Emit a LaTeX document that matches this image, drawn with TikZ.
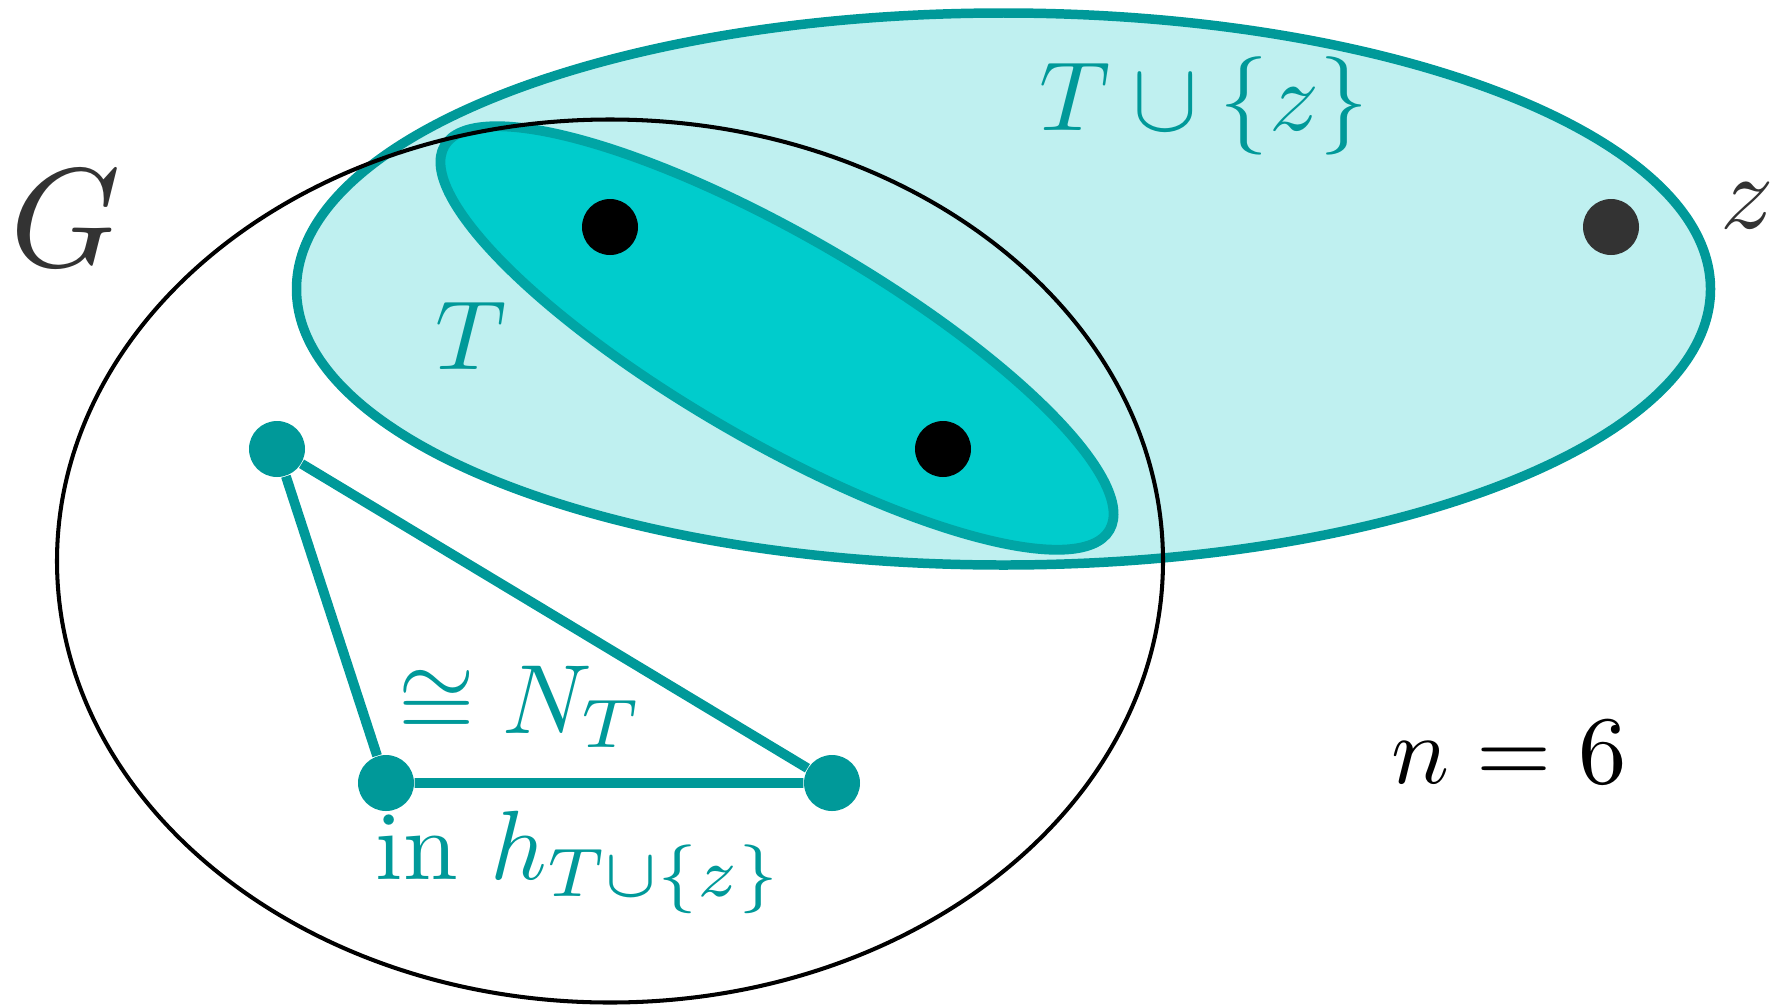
\documentclass[tikz,border=0pt]{standalone}
\usepackage{amsmath, amssymb}
\usepackage{tikz}
\definecolor{TealDark}{RGB}{0, 153, 153}
\definecolor{TealMid}{RGB}{0, 165, 165}
\definecolor{TealFill}{RGB}{0, 204, 204}
\definecolor{TealLight}{RGB}{191, 240, 240}
\definecolor{DarkGray}{RGB}{51, 51, 51}

\begin{document}
\begin{tikzpicture}[
    vertex/.style={circle, fill, inner sep=0pt, minimum size=0.56cm},
    lbl/.style={inner sep=0pt, text=TealDark, scale=2.8}
  ]
    \useasboundingbox (0,0) rectangle (17.78,10.06);

    % T cup {z}
    \draw[TealDark, line width=2.7pt, fill=TealLight] (10.035,7.17) ellipse (7.07cm and 2.76cm);
    \node[lbl] (TzLabel) at (12.04,9.00) {$T \cup \{z\}$};

    % T
    \draw[TealMid, line width=2.8pt, fill=TealFill, rotate around={-30:(7.77,6.68)}] (7.77,6.68) ellipse (3.84cm and 1.03cm);
    \node[lbl] (TLabel) at (4.71,6.70) {$T$};

    % G
    \draw[black, line width=1.15pt] (6.10,4.45) ellipse (5.53cm and 4.415cm);
    \node[DarkGray, inner sep=0pt, scale=4.0] (GLabel) at (0.66,7.88) {$G$};

    % vertices of T and z
    \node[vertex, black] (t1) at (6.10,7.79) {};
    \node[vertex, black] (t2) at (9.43,5.57) {};
    \node[vertex, DarkGray] (z) at (16.11,7.79) {};
    \node[DarkGray, inner sep=0pt, scale=3.0] (zLabel) at (17.47,8.00) {$z$};

    % copy of N_T
    \node[vertex, TealDark] (a) at (2.77,5.57) {};
    \node[vertex, TealDark] (b) at (3.86,2.23) {};
    \node[vertex, TealDark] (c) at (8.32,2.23) {};
    \draw[TealDark, line width=2.8pt] (a) -- (b) -- (c) -- (a);
    \node[lbl, anchor=base west] (NLabel) at (3.97,2.73) {$\cong N_T$};
    \node[lbl, anchor=base west] (hLabel) at (3.74,1.27) {in $h_{T \cup \{z\}}$};

    % n
    \node[inner sep=0pt, scale=2.75, anchor=base west] (nLabel) at (13.90,2.23) {$n = 6$};
  \end{tikzpicture}
\end{document}
